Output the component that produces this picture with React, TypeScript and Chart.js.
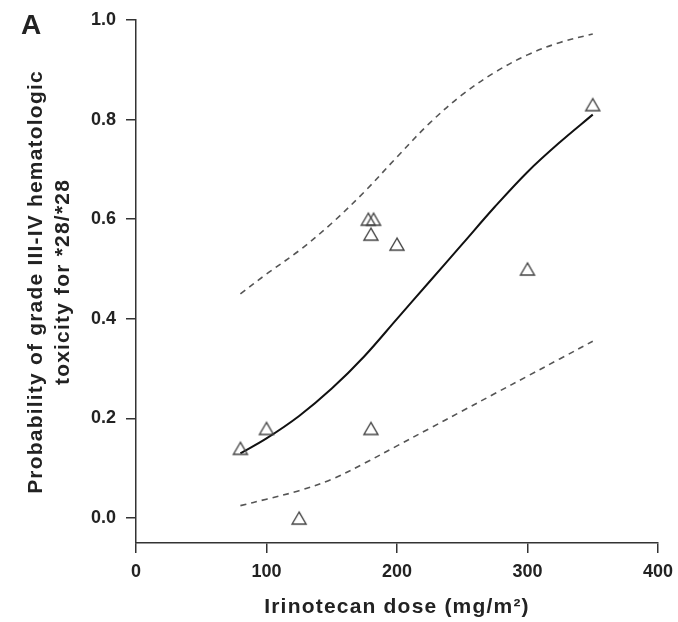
import React, { useEffect, useRef } from "react";
import { Chart, registerables } from "chart.js";

Chart.register(...registerables);

// ---- data ----
const X_TICKS = [0, 100, 200, 300, 400];
const Y_TICKS = [0, 0.2, 0.4, 0.6, 0.8, 1.0];

const OBS_DOSE = [80, 100, 125, 178, 182, 180, 180, 200, 300, 350];
const OBS_PROB = [0.14, 0.18, 0.0, 0.6, 0.6, 0.57, 0.18, 0.55, 0.5, 0.83];

const CURVE_DOSE = [80, 100, 125, 150, 175, 200, 225, 250, 275, 300, 325, 350];
const FIT_PROB = [0.13, 0.16, 0.205, 0.26, 0.325, 0.4, 0.475, 0.55, 0.625, 0.695, 0.755, 0.81];
const UPPER_PROB = [0.45, 0.49, 0.537, 0.592, 0.655, 0.725, 0.793, 0.85, 0.895, 0.93, 0.955, 0.972];
const LOWER_PROB = [0.025, 0.038, 0.055, 0.078, 0.11, 0.145, 0.18, 0.215, 0.25, 0.285, 0.32, 0.355];

const PANEL_LABEL = "A";
const X_TITLE = "Irinotecan dose (mg/m\u00B2)";
const Y_TITLE = ["Probability of grade III-IV hematologic", "toxicity for *28/*28"];

const FONT = 'Arial, "Liberation Sans", sans-serif';
const INK = "#222";

function makeTriangle(): HTMLCanvasElement {
  const c = document.createElement("canvas");
  c.width = 20;
  c.height = 20;
  const g = c.getContext("2d")!;
  g.strokeStyle = "#444";
  g.lineWidth = 1.4;
  g.lineJoin = "miter";
  g.beginPath();
  g.moveTo(10, 4);
  g.lineTo(3, 16);
  g.lineTo(17, 16);
  g.closePath();
  g.stroke();
  return c;
}

const textPlugin = {
  id: "figureText",
  afterDraw(chart: any) {
    const ctx: CanvasRenderingContext2D = chart.ctx;
    const area = chart.chartArea;
    ctx.save();
    ctx.fillStyle = INK;
    ctx.textBaseline = "alphabetic";
    ctx.textAlign = "left";
    ctx.font = `bold 28px ${FONT}`;
    ctx.fillText(PANEL_LABEL, 21, 34);

    ctx.font = `bold 21px ${FONT}`;
    (ctx as any).letterSpacing = "1.2px";
    ctx.textAlign = "center";
    ctx.fillText(X_TITLE, (area.left + area.right) / 2, 613);

    const cy = 282;
    Y_TITLE.forEach((line, i) => {
      ctx.save();
      ctx.translate(42 + 27 * i, cy);
      ctx.rotate(-Math.PI / 2);
      ctx.fillText(line, 0, 0);
      ctx.restore();
    });
    ctx.restore();
  },
};

export default function App() {
  const ref = useRef<HTMLCanvasElement | null>(null);

  useEffect(() => {
    if (!ref.current) return;
    const tri = makeTriangle();
    const toPts = (xs: number[], ys: number[]) => xs.map((x, i) => ({ x, y: ys[i] }));

    const axisCommon = {
      grid: {
        display: true,
        drawOnChartArea: false,
        drawTicks: true,
        tickLength: 10,
        color: "#333",
        lineWidth: 1.5,
      },
      border: { display: true, color: "#333", width: 1.5 },
    };

    const chart = new Chart(ref.current, {
      type: "scatter",
      data: {
        datasets: [
          {
            data: toPts(OBS_DOSE, OBS_PROB),
            pointStyle: tri as any,
            pointRadius: 8,
            showLine: false,
            order: 0,
          },
          {
            data: toPts(CURVE_DOSE, FIT_PROB),
            showLine: true,
            borderColor: "#111",
            borderWidth: 2,
            pointRadius: 0,
            tension: 0.35,
            order: 1,
          },
          {
            data: toPts(CURVE_DOSE, UPPER_PROB),
            showLine: true,
            borderColor: "#555",
            borderWidth: 1.6,
            borderDash: [6, 5],
            pointRadius: 0,
            tension: 0.35,
            order: 2,
          },
          {
            data: toPts(CURVE_DOSE, LOWER_PROB),
            showLine: true,
            borderColor: "#555",
            borderWidth: 1.6,
            borderDash: [6, 5],
            pointRadius: 0,
            tension: 0.35,
            order: 3,
          },
        ],
      },
      options: {
        responsive: false,
        maintainAspectRatio: false,
        animation: false,
        layout: { padding: { left: 0, top: 20, right: 20, bottom: 0 } },
        plugins: { legend: { display: false }, tooltip: { enabled: false } },
        scales: {
          x: {
            type: "linear",
            min: X_TICKS[0],
            max: X_TICKS[X_TICKS.length - 1],
            ...axisCommon,
            afterBuildTicks: (s: any) => {
              s.ticks = X_TICKS.map((v) => ({ value: v }));
            },
            afterFit: (s: any) => {
              s.height = 79;
              s.paddingRight = 0;
              s.paddingLeft = 0;
            },
            ticks: {
              padding: 8,
              color: INK,
              font: { family: FONT, size: 18, weight: "bold" },
              callback: (v: any) => String(v),
            },
          },
          y: {
            type: "linear",
            min: -0.05,
            max: 1.0,
            ...axisCommon,
            afterBuildTicks: (s: any) => {
              s.ticks = Y_TICKS.map((v) => ({ value: v }));
            },
            afterFit: (s: any) => {
              s.width = 136;
              s.paddingTop = 0;
              s.paddingBottom = 0;
            },
            ticks: {
              padding: 10,
              color: INK,
              font: { family: FONT, size: 18, weight: "bold" },
              callback: (v: any) => Number(v).toFixed(1),
            },
          },
        },
      } as any,
      plugins: [textPlugin],
    });
    return () => chart.destroy();
  }, []);

  return (
    <div style={{ position: "absolute", left: 0, top: 0, width: 678, height: 622, background: "#fff" }}>
      <canvas ref={ref} width={678} height={622} style={{ display: "block" }} />
    </div>
  );
}
